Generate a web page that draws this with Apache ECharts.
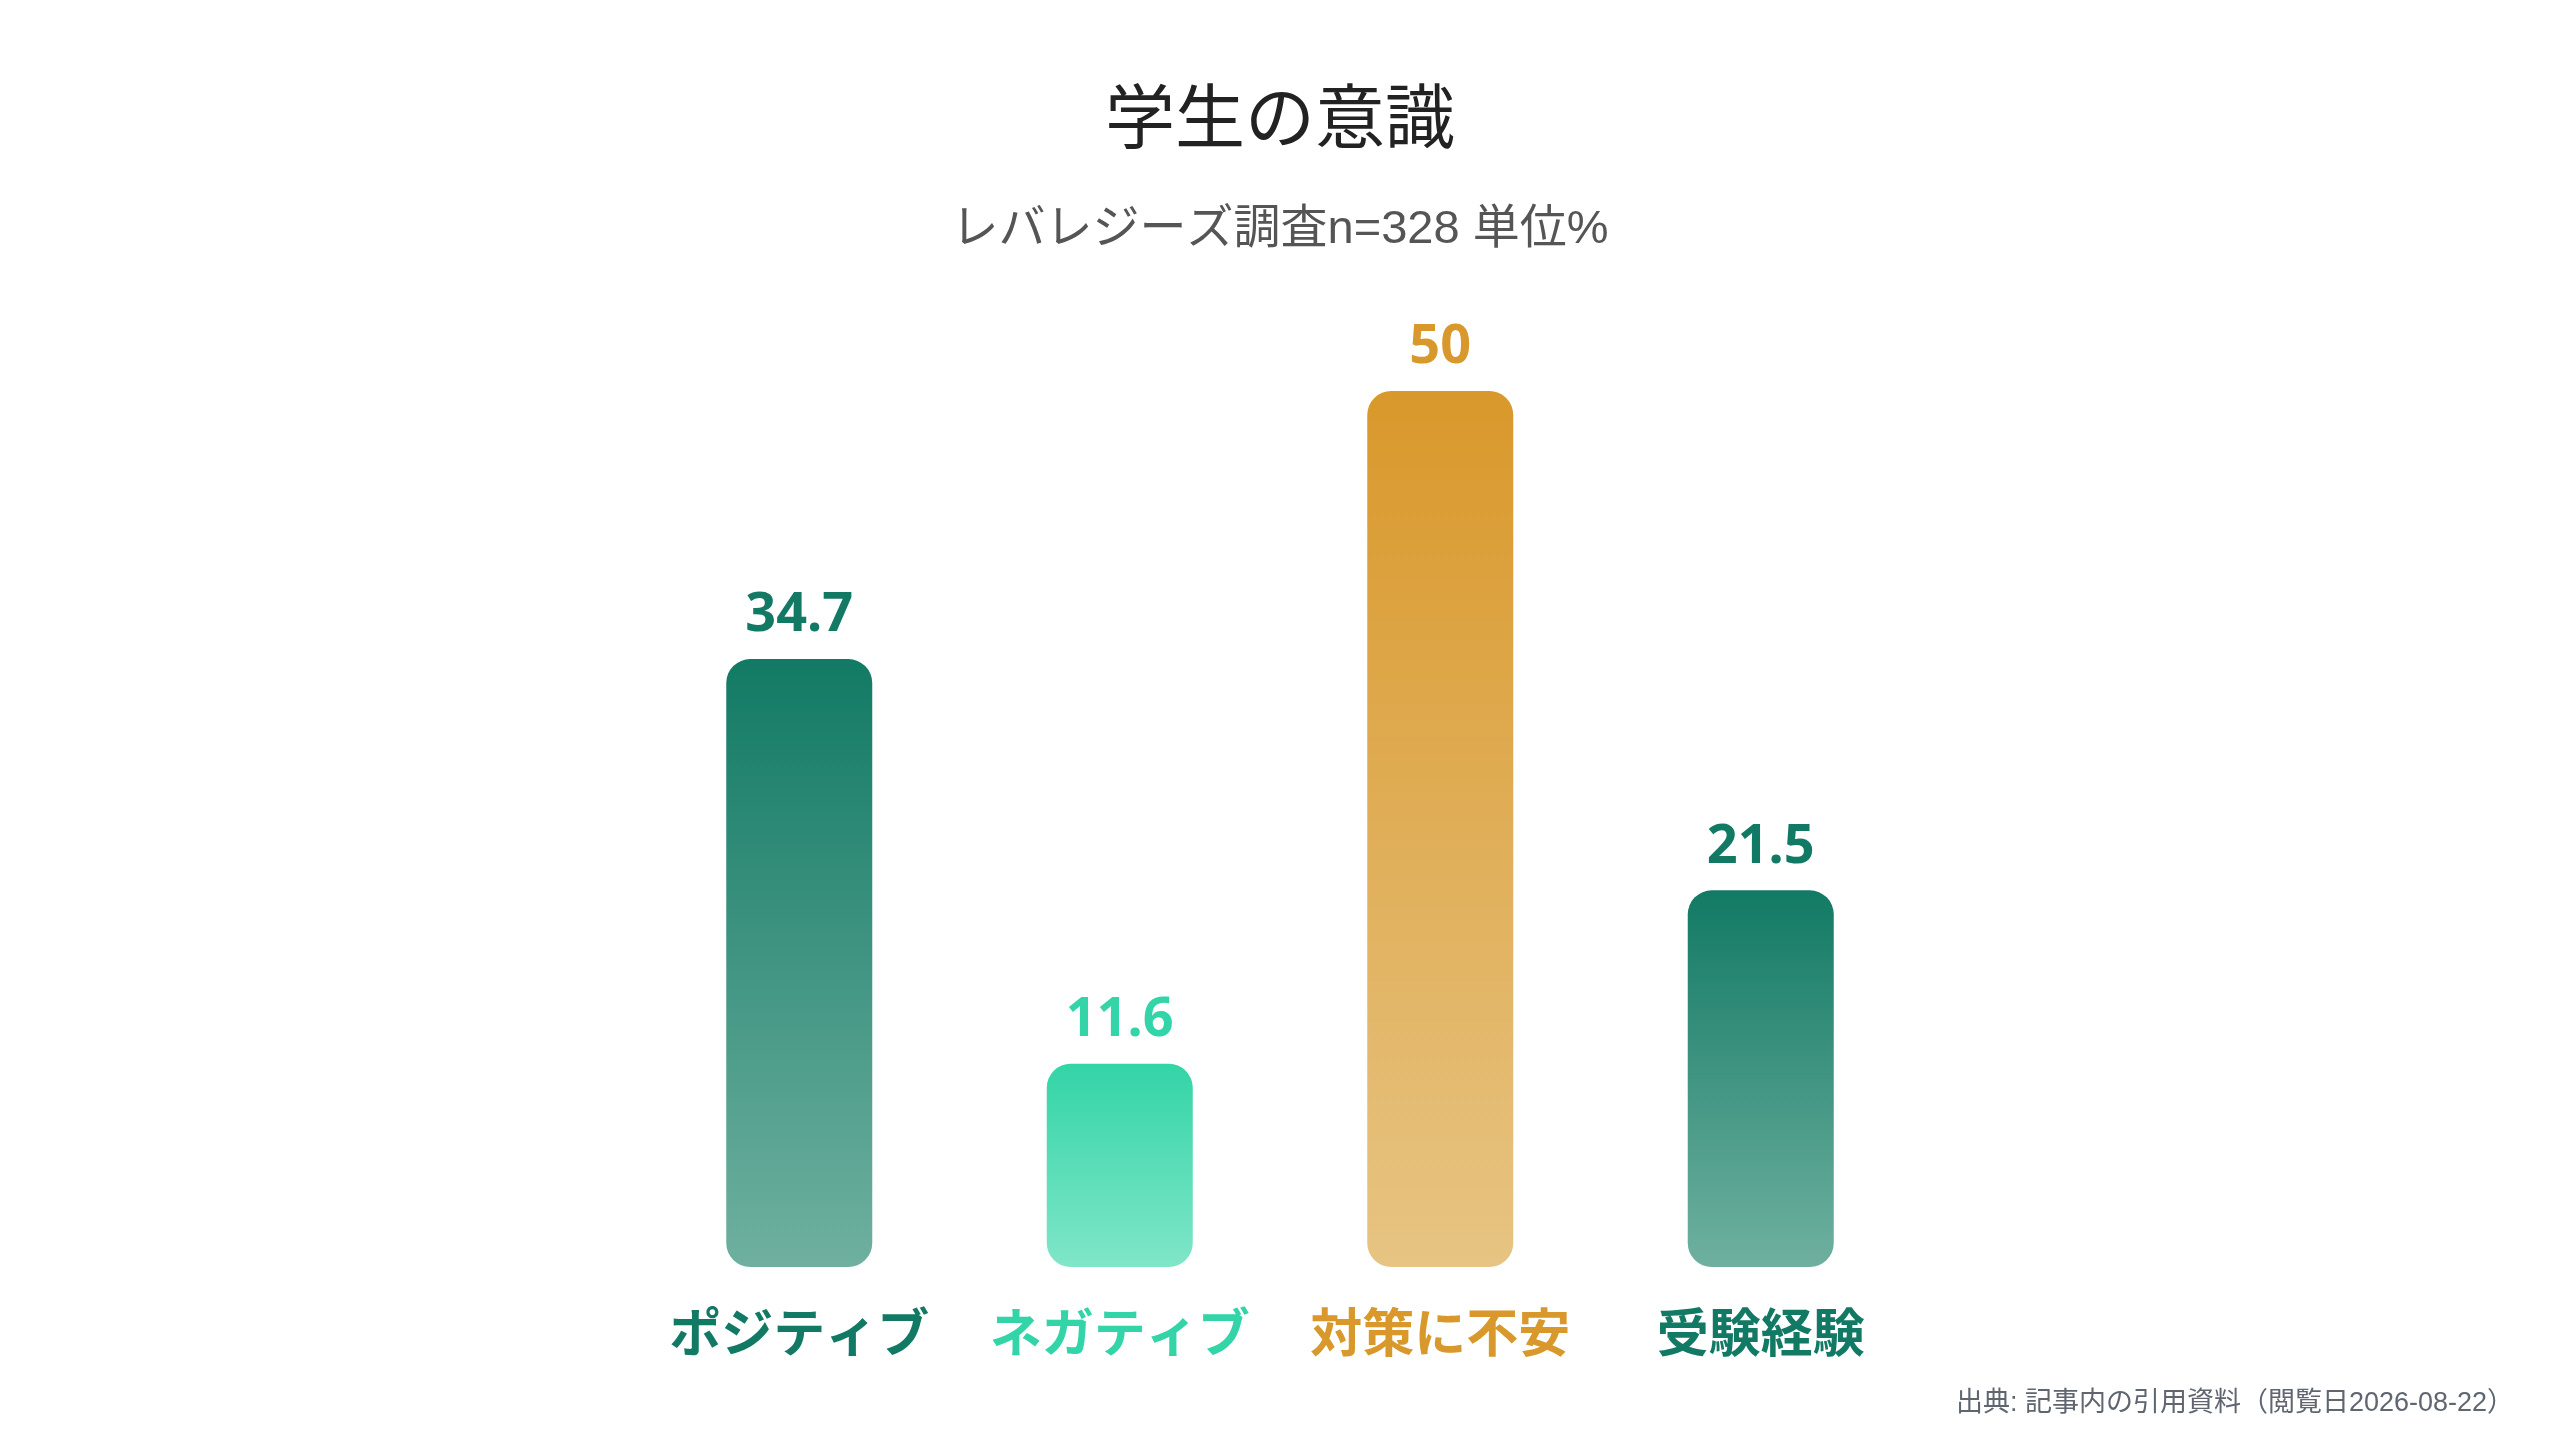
<!DOCTYPE html>
<html>
<head>
<meta charset="utf-8">
<script src="https://cdn.jsdelivr.net/npm/echarts@6/dist/echarts.min.js"></script>
<style>
  html, body { margin: 0; padding: 0; background: #fff; }
  #chart { width: 2560px; height: 1440px; }
</style>
</head>
<body>
<div id="chart"></div>
<script>
const categories = ['ポジティブ', 'ネガティブ', '対策に不安', '受験経験'];
const values = [34.7, 11.6, 50, 21.5];
const topColors = ['#127a64', '#33d4a7', '#d9982b', '#127a64'];
const bottomColors = ['#6fb0a0', '#80e6c8', '#e7c483', '#6fb0a0'];

const titleText = '学生の意識';
const subText = 'レバレジーズ調査n=328 単位%';
const sourceText = '出典: 記事内の引用資料（閲覧日2026-08-22）';

const chart = echarts.init(document.getElementById('chart'));

// one rich style per category so each label gets its bar colour
const richLabels = {};
topColors.forEach((c, i) => {
  richLabels['c' + i] = {
    fontFamily: 'Noto Sans CJK JP',
    fontSize: 52,
    fontWeight: 'bold',
    color: c
  };
});

const option = {
  backgroundColor: '#ffffff',
  title: [{
    text: titleText,
    left: 'center',
    top: 76,
    textStyle: {
      fontFamily: 'Noto Sans CJK JP',
      fontSize: 70,
      fontWeight: 'normal',
      color: '#222222'
    }
  }, {
    text: subText,
    left: 'center',
    top: 202,
    textStyle: {
      fontFamily: 'Liberation Sans, Noto Sans CJK JP',
      fontSize: 47,
      fontWeight: 'normal',
      color: '#555555'
    }
  }],
  graphic: [{
    type: 'text',
    right: 46,
    top: 1390,
    style: {
      text: sourceText,
      fontFamily: 'Liberation Sans, Noto Sans CJK JP',
      fontSize: 27,
      fill: '#5f6670'
    }
  }],
  grid: {
    left: 639,
    right: 639,
    top: 391,
    bottom: 173
  },
  xAxis: {
    type: 'category',
    data: categories,
    axisLine: { show: false },
    axisTick: { show: false },
    axisLabel: {
      interval: 0,
      margin: 39,
      formatter: (val) => '{c' + categories.indexOf(val) + '|' + val + '}',
      rich: richLabels
    }
  },
  yAxis: {
    type: 'value',
    min: 0,
    max: 50,
    show: false,
    splitLine: { show: false }
  },
  series: [{
    type: 'bar',
    barWidth: 146,
    data: values.map((v, i) => ({
      value: v,
      itemStyle: {
        borderRadius: 24,
        color: new echarts.graphic.LinearGradient(0, 0, 0, 1, [
          { offset: 0, color: topColors[i] },
          { offset: 1, color: bottomColors[i] }
        ])
      },
      label: { color: topColors[i] }
    })),
    label: {
      show: true,
      position: 'top',
      distance: 16,
      fontFamily: 'Noto Sans',
      fontSize: 54,
      fontWeight: 'bold'
    }
  }]
};

chart.setOption(option);
</script>
</body>
</html>
